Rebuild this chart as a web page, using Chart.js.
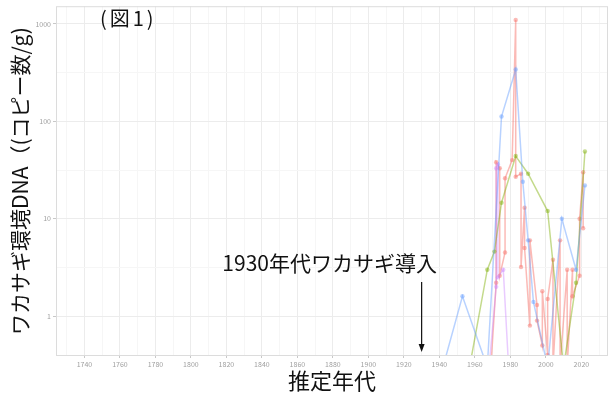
<!DOCTYPE html>
<html>
<head>
<meta charset="utf-8">
<script src="https://cdn.jsdelivr.net/npm/chart.js@4"></script>
<style>
  html, body { margin: 0; padding: 0; background: #ffffff; }
  canvas { display: block; }
</style>
</head>
<body>
<canvas id="c" width="615" height="394"></canvas>
<script>
// ---- data ----
const xTickYears = [1740, 1760, 1780, 1800, 1820, 1840, 1860, 1880, 1900, 1920, 1940, 1960, 1980, 2000, 2020];
const yTickValues = [1, 10, 100, 1000];
const yTickLabels = ['1', '10', '100', '1000'];

const redYears   = [1969, 1972, 1972, 1974, 1974, 1977, 1977, 1981, 1983, 1983, 1986, 1986, 1988, 1988, 1991, 1991, 1995, 1995, 1998, 1998, 2001, 2001, 2004, 2004, 2008, 2008, 2012, 2012, 2015, 2015, 2019, 2019, 2021, 2021];
const redValues  = [0.3, 2.2, 38, 33, 2.6, 4.5, 26, 40, 1100, 27, 29, 3.2, 13, 5, 0.8, 6, 1.3, 0.9, 0.5, 1.8, 0.4, 1.5, 3.8, 0.3, 6, 0.3, 3, 0.3, 3, 1.6, 2.6, 10, 30, 8];

const greenYears  = [1957, 1967, 1971, 1975, 1983, 1990, 2001, 2010, 2017, 2022];
const greenValues = [0.3, 3, 4.6, 14.6, 44, 29, 12, 0.3, 2.2, 49];

const blueYears  = [1942, 1953, 1967, 1975, 1983, 1987, 1990, 1993, 2001, 2009, 2017, 2022];
const blueValues = [0.3, 1.6, 0.3, 112, 340, 24, 6, 1.4, 0.3, 10, 3, 22];

const purpleYears  = [1968, 1972, 1972, 1973, 1973, 1976, 1979];
const purpleValues = [0.3, 2.0, 33, 36, 2.5, 3.0, 0.3];

const titleText = '(図1)';
const noteText = '1930年代ワカサギ導入';
const noteYear = 1930;
const xTitle = '推定年代';
const yTitle = 'ワカサギ環境DNA（(コピー数/g)';

const FONT = '"Noto Sans CJK JP", "Noto Sans", sans-serif';

function pts(xs, ys) { return xs.map((x, i) => ({ x: x, y: ys[i] })); }
function ds(label, xs, ys, color) {
  return {
    label: label, data: pts(xs, ys),
    borderColor: color, backgroundColor: color,
    pointBorderColor: color, pointBackgroundColor: color,
    borderWidth: 1.5, pointRadius: 2.2, pointBorderWidth: 0, tension: 0
  };
}

const overlay = {
  id: 'overlay',
  afterDraw(chart) {
    const ctx = chart.ctx, a = chart.chartArea;
    ctx.save();
    // panel border
    ctx.strokeStyle = '#dcdcdc';
    ctx.lineWidth = 1;
    ctx.strokeRect(a.left + 0.5, a.top + 0.5, a.right - a.left - 1, a.bottom - a.top - 1);
    // title
    ctx.fillStyle = '#111';
    ctx.font = '20px ' + FONT;
    ctx.textAlign = 'left';
    ctx.textBaseline = 'middle';
    try { ctx.letterSpacing = '3px'; } catch (e) {}
    ctx.fillText(titleText, 100, 18);
    try { ctx.letterSpacing = '0px'; } catch (e) {}
    // annotation
    const xp = chart.scales.x.getPixelForValue(noteYear);
    ctx.font = '21px ' + FONT;
    ctx.textAlign = 'center';
    ctx.fillText(noteText, xp - 92, 263);
    ctx.strokeStyle = '#111';
    ctx.lineWidth = 1.2;
    ctx.beginPath();
    ctx.moveTo(xp, 282);
    ctx.lineTo(xp, 349);
    ctx.stroke();
    ctx.fillStyle = '#111';
    ctx.beginPath();
    ctx.moveTo(xp, 352);
    ctx.lineTo(xp - 3, 344);
    ctx.lineTo(xp + 3, 344);
    ctx.closePath();
    ctx.fill();
    ctx.restore();
  }
};

new Chart(document.getElementById('c'), {
  type: 'line',
  data: {
    datasets: [
      ds('blue', blueYears, blueValues, 'rgba(97,156,255,0.45)'),
      ds('green', greenYears, greenValues, 'rgba(124,174,0,0.45)'),
      ds('purple', purpleYears, purpleValues, 'rgba(199,124,255,0.4)'),
      ds('red', redYears, redValues, 'rgba(248,118,109,0.5)')
    ]
  },
  options: {
    responsive: false,
    animation: false,
    devicePixelRatio: 1,
    layout: { padding: { left: 0, top: 4, right: 7, bottom: 0 } },
    plugins: { legend: { display: false }, tooltip: { enabled: false } },
    scales: {
      x: {
        type: 'linear', min: 1724, max: 2035,
        afterBuildTicks(s) {
          const t = [];
          xTickYears.forEach(v => { t.push({ value: v }); });
          xTickYears.forEach(v => { t.push({ value: v - 10, minor: true }); });
          t.push({ value: xTickYears[xTickYears.length - 1] + 10, minor: true });
          s.ticks = t.filter(k => k.value >= s.min && k.value <= s.max).sort((p, q) => p.value - q.value);
        },
        afterFit(s) { s.height = 38; },
        ticks: {
          autoSkip: false, maxRotation: 0, padding: 2,
          color: '#a0a0a0', font: { size: 7, family: FONT },
          callback: (v) => (xTickYears.indexOf(v) >= 0 ? String(v) : '')
        },
        grid: {
          color: (c) => (c.tick && xTickYears.indexOf(c.tick.value) >= 0 ? '#ececec' : '#f6f6f6'),
          tickColor: (c) => (c.tick && xTickYears.indexOf(c.tick.value) >= 0 ? '#c8c8c8' : 'rgba(0,0,0,0)'),
          tickLength: 2, drawTicks: true
        },
        border: { display: false },
        title: { display: true, text: xTitle, color: '#111', font: { size: 22, family: FONT }, padding: { top: 0, bottom: 0 } }
      },
      y: {
        type: 'logarithmic', min: 0.39, max: 1520,
        afterBuildTicks(s) {
          const t = [];
          yTickValues.forEach(v => t.push({ value: v }));
          yTickValues.forEach(v => { const m = v * Math.sqrt(10); if (m < s.max) t.push({ value: m, minor: true }); });
          s.ticks = t.sort((p, q) => p.value - q.value);
        },
        afterFit(s) { s.width = 56; },
        ticks: {
          autoSkip: false, padding: 2,
          color: '#a0a0a0', font: { size: 7, family: FONT },
          callback: (v) => { const i = yTickValues.indexOf(v); return i >= 0 ? yTickLabels[i] : ''; }
        },
        grid: {
          color: (c) => (c.tick && yTickValues.indexOf(c.tick.value) >= 0 ? '#ececec' : '#f6f6f6'),
          tickColor: (c) => (c.tick && yTickValues.indexOf(c.tick.value) >= 0 ? '#c8c8c8' : 'rgba(0,0,0,0)'),
          tickLength: 3
        },
        border: { display: false },
        title: { display: true, text: yTitle, color: '#111', font: { size: 21, family: FONT }, padding: { top: 7, bottom: 0 } }
      }
    }
  },
  plugins: [overlay]
});
</script>
</body>
</html>
